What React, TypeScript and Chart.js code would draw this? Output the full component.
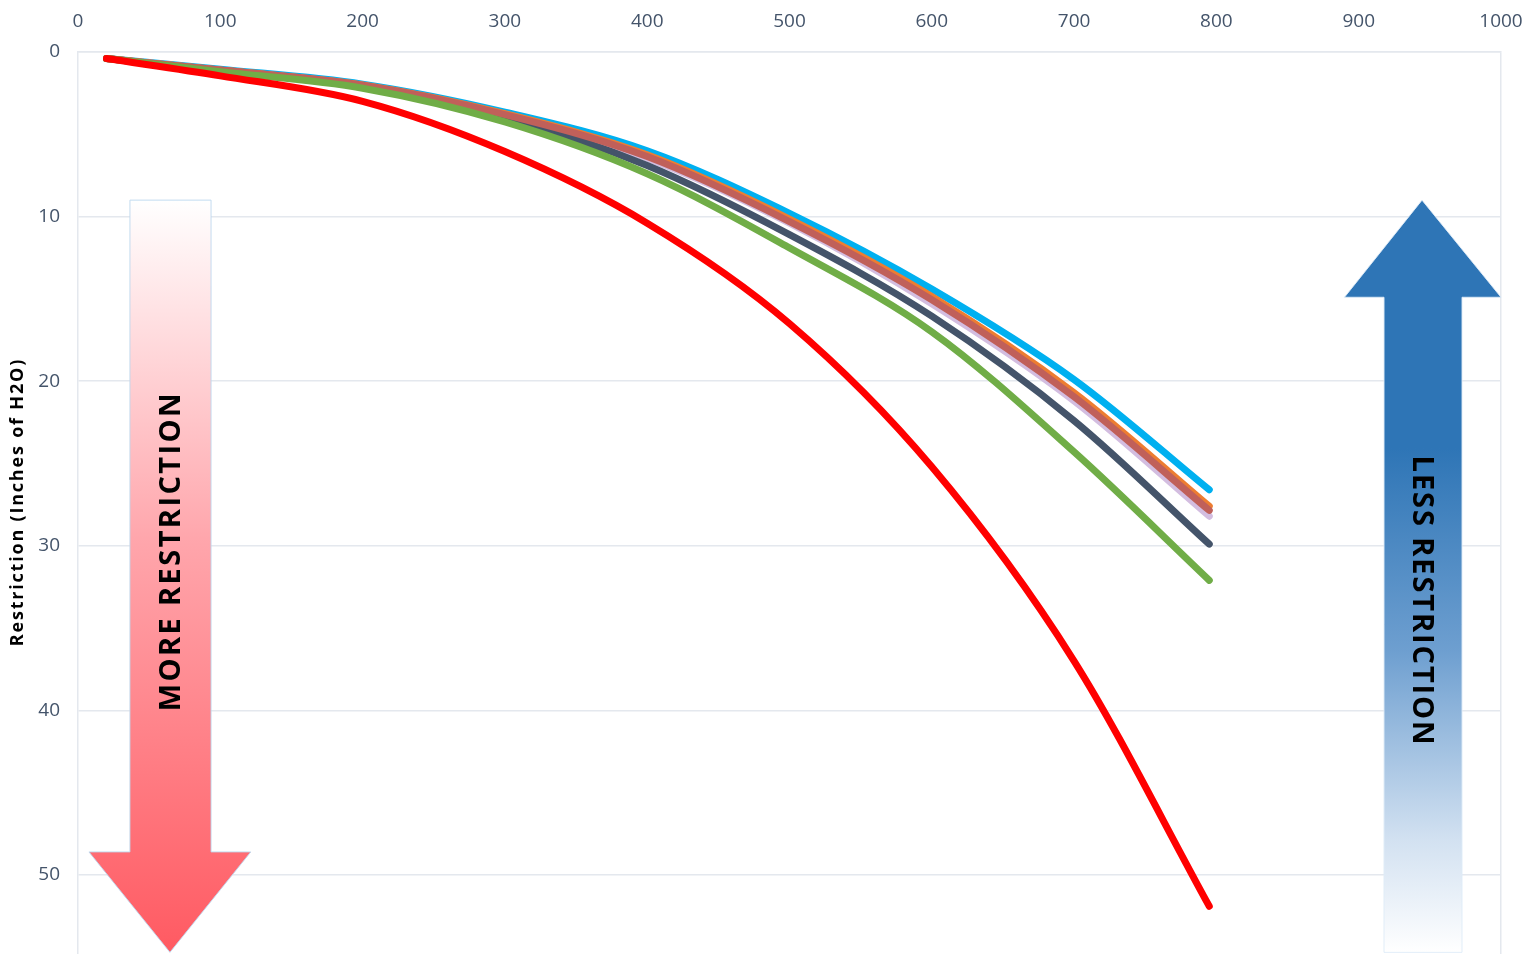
import { useEffect, useRef } from "react";
import { Chart, registerables } from "chart.js";

Chart.register(...registerables);

// ---- Data (flow on x, restriction in inches of H2O on y) ----
const flowX = [20, 100, 200, 300, 400, 500, 600, 700, 795];
const restrictionBlue = [0.4, 1.05, 1.95, 3.65, 6.0, 9.8, 14.4, 19.9, 26.6];
const restrictionOrange = [0.4, 1.1, 2.0, 3.75, 6.25, 10.15, 14.85, 20.7, 27.6];
const restrictionBrown = [0.4, 1.1, 2.02, 3.8, 6.35, 10.3, 15.05, 20.95, 27.85];
const restrictionLavender = [0.4, 1.12, 2.05, 3.85, 6.45, 10.4, 15.3, 21.2, 28.2];
const restrictionNavy = [0.4, 1.15, 2.1, 3.95, 6.9, 11.1, 16.05, 22.4, 29.9];
const restrictionGreen = [0.4, 1.2, 2.2, 4.25, 7.4, 11.9, 17.0, 24.3, 32.1];
const restrictionRed = [0.4, 1.45, 3.0, 6.05, 10.4, 16.5, 25.2, 37.0, 51.9];

const xTickValues = [0, 100, 200, 300, 400, 500, 600, 700, 800, 900, 1000];
const yTickValues = [0, 10, 20, 30, 40, 50];

const yAxisTitle = "Restriction (Inches of H2O)";
const moreLabel = "MORE RESTRICTION";
const lessLabel = "LESS RESTRICTION";

// ---- Decoration geometry (in data units) ----
const RED_ARROW = { shaftL: 36.5, shaftR: 93.5, headL: 7.7, headR: 121.4, tipX: 64.6, top: 9.0, headBase: 48.6, tip: 54.7, textX: 66, textY: 30.4 };
const BLUE_ARROW = { shaftL: 917.8, shaftR: 972.6, headL: 890, headR: 1000, tipX: 944.5, tip: 9.0, headBase: 14.9, bottom: 54.7, textX: 943.8, textY: 33.3 };

const FONT = "'Open Sans', 'DejaVu Sans', sans-serif";

function toPoints(ys: number[]) {
  return flowX.map((x, i) => ({ x, y: ys[i] }));
}

function drawSpacedText(ctx: any, text: string, spacing: number) {
  const chars = Array.from(text);
  const widths = chars.map((c) => ctx.measureText(c).width);
  const total = widths.reduce((a, b) => a + b, 0) + spacing * (chars.length - 1);
  let xPos = -total / 2;
  ctx.textAlign = "left";
  chars.forEach((c, i) => {
    ctx.fillText(c, xPos, 0);
    xPos += widths[i] + spacing;
  });
}

const arrowPlugin = {
  id: "restrictionArrows",
  beforeDatasetsDraw(chart: any) {
    const { ctx, scales, chartArea } = chart;
    const xs = scales.x;
    const ys = scales.y;
    const px = (v: number) => xs.getPixelForValue(v);
    const py = (v: number) => ys.getPixelForValue(v);

    // Red (down) arrow
    ctx.save();
    {
      const a = RED_ARROW;
      const g = ctx.createLinearGradient(0, py(a.top), 0, py(a.tip));
      g.addColorStop(0, "#FFFFFF");
      g.addColorStop(0.45, "#FFA6AC");
      g.addColorStop(1, "#FF5A62");
      ctx.beginPath();
      ctx.moveTo(px(a.shaftL), py(a.top));
      ctx.lineTo(px(a.shaftR), py(a.top));
      ctx.lineTo(px(a.shaftR), py(a.headBase));
      ctx.lineTo(px(a.headR), py(a.headBase));
      ctx.lineTo(px(a.tipX), py(a.tip));
      ctx.lineTo(px(a.headL), py(a.headBase));
      ctx.lineTo(px(a.shaftL), py(a.headBase));
      ctx.closePath();
      ctx.fillStyle = g;
      ctx.fill();
      ctx.lineWidth = 1;
      ctx.strokeStyle = "rgba(189,215,238,0.9)";
      ctx.stroke();

      ctx.translate(px(a.textX), py(a.textY));
      ctx.rotate(-Math.PI / 2);
      ctx.fillStyle = "#000000";
      ctx.font = `bold 29px ${FONT}`;
      ctx.textBaseline = "middle";
      drawSpacedText(ctx, moreLabel, 2.4);
    }
    ctx.restore();

    // Blue (up) arrow
    ctx.save();
    {
      const a = BLUE_ARROW;
      const g = ctx.createLinearGradient(0, py(a.tip), 0, py(a.bottom));
      g.addColorStop(0, "#2E75B6");
      g.addColorStop(0.33, "#2E75B6");
      g.addColorStop(0.6, "#6E9FD0");
      g.addColorStop(0.85, "#D2E1F1");
      g.addColorStop(1, "#FFFFFF");
      ctx.beginPath();
      ctx.moveTo(px(a.tipX), py(a.tip));
      ctx.lineTo(px(a.headR), py(a.headBase));
      ctx.lineTo(px(a.shaftR), py(a.headBase));
      ctx.lineTo(px(a.shaftR), py(a.bottom));
      ctx.lineTo(px(a.shaftL), py(a.bottom));
      ctx.lineTo(px(a.shaftL), py(a.headBase));
      ctx.lineTo(px(a.headL), py(a.headBase));
      ctx.closePath();
      ctx.fillStyle = g;
      ctx.fill();
      ctx.lineWidth = 1;
      ctx.strokeStyle = "rgba(222,235,247,0.9)";
      ctx.stroke();

      ctx.translate(px(a.textX), py(a.textY));
      ctx.rotate(Math.PI / 2);
      ctx.fillStyle = "#000000";
      ctx.font = `bold 29px ${FONT}`;
      ctx.textBaseline = "middle";
      drawSpacedText(ctx, lessLabel, 1.9);
    }
    ctx.restore();

    // Y axis title
    ctx.save();
    ctx.translate(18, (chartArea.top + chartArea.bottom) / 2);
    ctx.rotate(-Math.PI / 2);
    ctx.fillStyle = "#000000";
    ctx.font = `bold 18px ${FONT}`;
    ctx.textBaseline = "middle";
    drawSpacedText(ctx, yAxisTitle, 1.8);
    ctx.restore();
  },
};

function zeroPadding(s: any) {
  s.paddingLeft = 0;
  s.paddingRight = 0;
  s.paddingTop = 0;
  s.paddingBottom = 0;
}

export default function App() {
  const canvasRef = useRef<HTMLCanvasElement | null>(null);

  useEffect(() => {
    if (!canvasRef.current) return;
    const line = (data: number[], color: string) => ({
      data: toPoints(data),
      borderColor: color,
      backgroundColor: color,
      borderWidth: 7,
      borderCapStyle: "round" as const,
      borderJoinStyle: "round" as const,
      pointRadius: 0,
      pointHoverRadius: 0,
      cubicInterpolationMode: "monotone" as const,
      fill: false,
      clip: false as any,
    });

    const chart = new Chart(canvasRef.current, {
      type: "line",
      data: {
        datasets: [
          // first dataset is drawn on top
          line(restrictionRed, "#FF0000"),
          line(restrictionGreen, "#70AD47"),
          line(restrictionBrown, "#C0605A"),
          line(restrictionOrange, "#ED7D31"),
          line(restrictionNavy, "#44546A"),
          line(restrictionLavender, "#D3BDE0"),
          line(restrictionBlue, "#00B0F0"),
        ],
      },
      options: {
        animation: false,
        responsive: false,
        devicePixelRatio: 1,
        layout: { autoPadding: false, padding: { left: 0, right: 24, top: 0, bottom: 0 } },
        plugins: {
          legend: { display: false },
          tooltip: { enabled: false },
        },
        scales: {
          x: {
            type: "linear",
            position: "top",
            min: 0,
            max: 1000,
            afterBuildTicks: (s: any) => {
              s.ticks = xTickValues.map((v) => ({ value: v }));
            },
            afterFit: (s: any) => {
              s.height = 52;
              zeroPadding(s);
            },
            ticks: {
              color: "#44546A",
              font: { family: FONT, size: 19 },
              padding: 19,
              maxRotation: 0,
              callback: (v: any) => String(v),
            },
            grid: {
              drawTicks: false,
              lineWidth: 1.5,
              color: (c: any) => (c.tick && c.tick.value === 1000 ? "#E4E8EE" : "rgba(0,0,0,0)"),
            },
            border: { display: true, color: "#E4E8EE", width: 1.5 },
          },
          y: {
            type: "linear",
            reverse: true,
            min: 0,
            max: 54.8,
            afterBuildTicks: (s: any) => {
              s.ticks = yTickValues.map((v) => ({ value: v }));
            },
            afterFit: (s: any) => {
              s.width = 78;
              zeroPadding(s);
            },
            ticks: {
              color: "#44546A",
              font: { family: FONT, size: 19 },
              padding: 18,
              callback: (v: any) => String(v),
            },
            grid: {
              drawTicks: false,
              lineWidth: 1.5,
              color: "#E4E8EE",
            },
            border: { display: true, color: "#E4E8EE", width: 1.5 },
          },
        },
      },
      plugins: [arrowPlugin],
    });
    return () => chart.destroy();
  }, []);

  return (
    <div style={{ position: "fixed", left: 0, top: 0, width: 1525, height: 954, background: "#FFFFFF" }}>
      <canvas ref={canvasRef} width={1525} height={954} style={{ display: "block", width: 1525, height: 954 }} />
    </div>
  );
}
